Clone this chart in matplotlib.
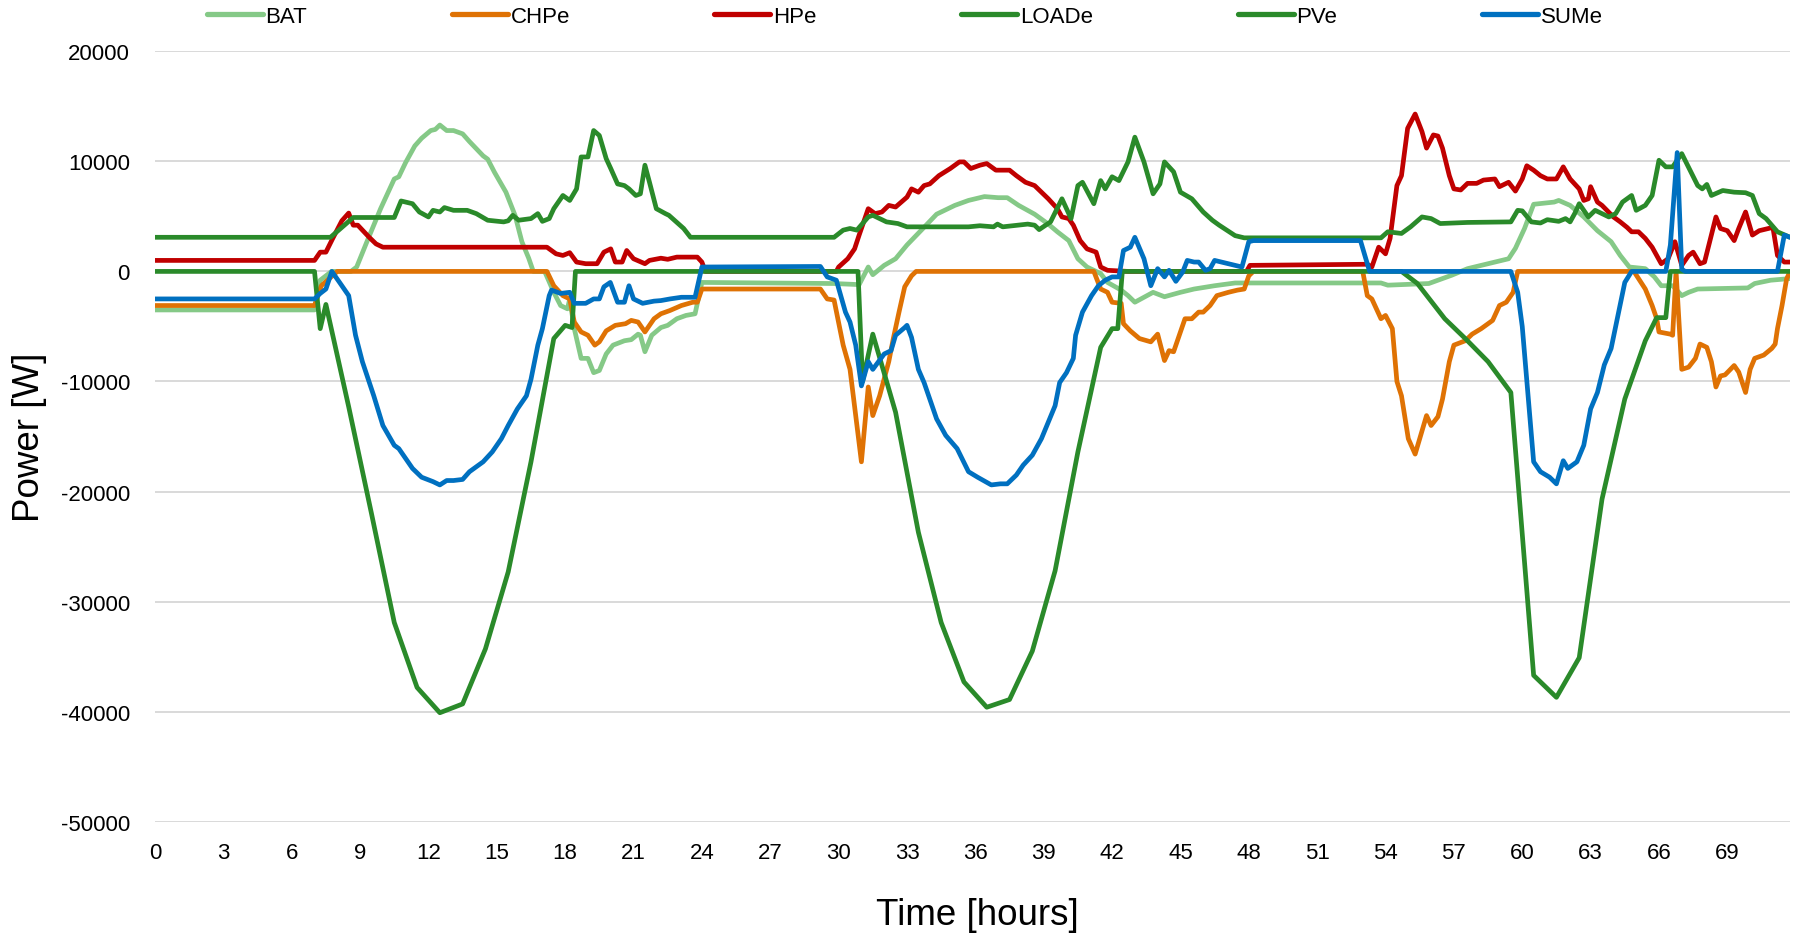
import matplotlib
matplotlib.use("Agg")
import matplotlib.pyplot as plt

plt.rcParams['font.family'] = ['Liberation Sans', 'DejaVu Sans']
plt.rcParams['axes.unicode_minus'] = False

# ---- time series (hours, watts) ----
bat_t = [0, 7.0, 7.25, 7.75, 8.6, 8.85, 9.3, 9.9, 10.5, 10.7, 11.0, 11.4, 11.7, 12.1, 12.3, 12.5,
         12.8, 13.1, 13.5, 13.8, 14.4, 14.6, 14.9, 15.4, 15.8, 16.1, 16.4, 16.6, 17.1, 17.5, 17.8,
         18.1, 18.2, 18.4, 18.7, 19.0, 19.25, 19.5, 19.8, 20.1, 20.6, 20.9, 21.2, 21.3, 21.5, 21.8,
         22.2, 22.5, 22.9, 23.3, 23.7, 24.0, 29.8, 30.9, 31.3, 31.5, 32.0, 32.5, 33.0, 33.7, 34.3,
         35.1, 35.7, 36.4, 37.0, 37.4, 37.9, 38.6, 39.2, 39.6, 40.1, 40.5, 40.9, 41.5, 41.8, 42.4,
         42.7, 43.0, 43.8, 44.3, 45.0, 45.6, 46.5, 47.4, 53.8, 54.1, 55.9, 56.9, 57.6, 58.5, 59.4,
         59.7, 60.1, 60.5, 61.4, 61.6, 62.1, 62.7, 63.3, 63.9, 64.3, 64.7, 65.4, 65.8, 66.1, 66.6,
         67.0, 67.3, 67.7, 69.9, 70.2, 70.9, 71.75]
bat_v = [-3500, -3500, -800, 0, 0, 400, 2700, 5700, 8400, 8600, 9900, 11400, 12100, 12800, 12900, 13300,
         12800, 12800, 12500, 11800, 10500, 10200, 9000, 7200, 5100, 2700, 1200, 0, 0, -1900, -3100,
         -3400, -2500, -5200, -7900, -7900, -9200, -9000, -7500, -6700, -6300, -6200, -5700, -5800, -7300, -5800,
         -5100, -4900, -4300, -4000, -3850, -1000, -1100, -1200, 400, -300, 550, 1150, 2400, 3900, 5200,
         6000, 6450, 6800, 6700, 6700, 6000, 5200, 4300, 3600, 2800, 1150, 400, -200, -1000, -1700,
         -2200, -2800, -1900, -2300, -1900, -1600, -1300, -1050, -1050, -1250, -1100, -350, 250, 700, 1150,
         2100, 3900, 6100, 6300, 6450, 6000, 4950, 3700, 2700, 1450, 400, 250, -500, -1300, -1300,
         -2200, -1900, -1600, -1500, -1100, -800, -650]

chp_t = [0, 7.0, 7.3, 8.0, 17.2, 17.5, 17.9, 18.2, 18.4, 18.7, 19.0, 19.3, 19.5, 19.8, 20.2, 20.65,
         20.9, 21.2, 21.5, 21.9, 22.2, 22.6, 23.1, 23.6, 23.8, 24.0, 29.2, 29.5, 29.8, 30.2, 30.5,
         31.0, 31.3, 31.5, 31.8, 32.2, 32.4, 32.65, 32.9, 33.2, 33.4, 41.2, 41.5, 41.8, 42.0, 42.4,
         42.5, 42.8, 43.2, 43.7, 44.0, 44.3, 44.5, 44.7, 45.2, 45.5, 45.8, 46.0, 46.3, 46.6, 47.1,
         47.5, 47.8, 48.0, 48.2, 53.0, 53.2, 53.4, 53.8, 54.0, 54.3, 54.5, 54.7, 55.0, 55.3, 55.5,
         55.8, 56.0, 56.3, 56.5, 56.8, 57.0, 57.5, 57.8, 58.2, 58.7, 59.0, 59.3, 59.6, 59.8, 64.9,
         65.4, 65.7, 65.9, 66.0, 66.5, 66.6, 66.75, 67.0, 67.3, 67.6, 67.8, 68.1, 68.3, 68.5, 68.7,
         68.9, 69.3, 69.5, 69.8, 70.0, 70.2, 70.6, 70.95, 71.1, 71.2, 71.4, 71.6, 71.75]
chp_v = [-3100, -3100, -1300, 0, 0, -1300, -2200, -2500, -4600, -5500, -5800, -6700, -6400, -5400, -4900, -4750,
         -4450, -4600, -5500, -4300, -3850, -3550, -3100, -2800, -2800, -1600, -1600, -2500, -2600, -6700, -8900,
         -17300, -10500, -13100, -11300, -8200, -6100, -3700, -1400, -400, 0, 0, -1600, -1900, -2800, -2900,
         -4750, -5400, -6100, -6400, -5700, -8100, -7200, -7300, -4300, -4300, -3700, -3700, -3100, -2200, -1900,
         -1700, -1600, -400, 0, 0, -2200, -2500, -4300, -4000, -5200, -10000, -11300, -15200, -16600, -15200,
         -13100, -14000, -13200, -11600, -8200, -6700, -6300, -5700, -5200, -4450, -3100, -2800, -1900, 0, 0,
         -1600, -3100, -4300, -5500, -5700, -5800, 0, -8900, -8700, -7900, -6600, -6900, -8200, -10500, -9500,
         -9400, -8550, -9150, -11000, -8900, -7900, -7600, -7000, -6600, -5200, -3100, -700, 0]

hp_t = [0, 7.0, 7.25, 7.5, 7.8, 8.2, 8.5, 8.7, 8.9, 9.4, 9.7, 10.0, 17.2, 17.6, 17.9, 18.2, 18.5,
        18.9, 19.4, 19.7, 20.0, 20.2, 20.5, 20.7, 21.0, 21.5, 21.7, 22.2, 22.5, 22.9, 23.8, 24.0,
        24.15, 29.9, 30.0, 30.4, 30.7, 30.9, 31.3, 31.6, 31.9, 32.2, 32.5, 33.0, 33.2, 33.5, 33.75,
        34.0, 34.4, 34.9, 35.3, 35.5, 35.8, 36.2, 36.5, 36.9, 37.5, 37.8, 38.2, 38.6, 38.9, 39.2,
        39.6, 39.8, 40.1, 40.3, 40.6, 40.9, 41.3, 41.5, 41.8, 42.7, 47.9, 48.05, 53.2, 53.4, 53.7,
        54.0, 54.2, 54.5, 54.7, 54.97, 55.3, 55.6, 55.8, 56.1, 56.3, 56.5, 56.8, 57.0, 57.3, 57.6,
        58.0, 58.3, 58.8, 59.0, 59.4, 59.7, 60.0, 60.2, 60.5, 60.8, 61.1, 61.5, 61.8, 62.1, 62.5,
        62.7, 62.9, 63.0, 63.3, 63.5, 64.0, 64.3, 64.6, 64.8, 65.1, 65.4, 65.7, 65.9, 66.1, 66.4,
        66.7, 67.0, 67.3, 67.5, 67.8, 68.0, 68.5, 68.7, 69.0, 69.3, 69.5, 69.8, 70.1, 70.4, 70.8,
        71.0, 71.2, 71.5, 71.75]
hp_v = [1000, 1000, 1750, 1750, 3000, 4600, 5300, 4200, 4200, 3100, 2500, 2200, 2200, 1600, 1450, 1700, 850,
        700, 700, 1750, 2050, 850, 850, 1900, 1150, 700, 1000, 1200, 1100, 1300, 1300, 850,
        0, 0, 400, 1150, 2050, 3300, 5700, 5250, 5400, 6000, 5850, 6750, 7500, 7200, 7800,
        7950, 8700, 9350, 9950, 9950, 9350, 9650, 9800, 9200, 9200, 8700, 8100, 7800, 7200, 6600,
        5700, 4950, 4800, 4200, 2800, 2050, 1750, 400, 100, 0, 0, 550, 650, 400, 2200,
        1600, 3000, 7800, 8700, 13000, 14300, 12700, 11200, 12400, 12300, 11200, 8700, 7500, 7400, 8000,
        8000, 8300, 8400, 7700, 8100, 7300, 8400, 9600, 9200, 8700, 8400, 8400, 9500, 8400, 7500,
        6450, 6600, 7700, 6300, 6000, 4950, 4500, 4000, 3600, 3600, 3000, 2200, 1450, 700, 1150,
        2700, 550, 1450, 1750, 700, 850, 4950, 3900, 3700, 2800, 3900, 5400, 3300, 3700, 3900,
        4000, 1450, 850, 850]

load_t = [0, 7.7, 8.7, 10.5, 10.8, 11.3, 11.6, 12.0, 12.2, 12.5, 12.7, 13.1, 13.7, 14.1, 14.6, 15.3,
          15.5, 15.7, 15.96, 16.5, 16.8, 17.0, 17.3, 17.5, 17.9, 18.2, 18.5, 18.7, 19.0, 19.25, 19.5,
          19.8, 20.0, 20.3, 20.6, 20.8, 21.1, 21.3, 21.5, 21.7, 22.0, 22.4, 22.55, 23.2, 23.5, 29.8,
          30.2, 30.5, 30.8, 31.3, 31.5, 32.1, 32.6, 33.0, 35.7, 36.2, 36.8, 36.97, 37.2, 38.3, 38.6,
          38.8, 39.3, 39.8, 40.2, 40.5, 40.7, 41.2, 41.5, 41.7, 42.0, 42.3, 42.7, 43.0, 43.4, 43.8,
          44.1, 44.3, 44.7, 45.0, 45.5, 46.0, 46.4, 46.7, 47.4, 47.8, 53.8, 54.1, 54.7, 55.1, 55.6,
          56.0, 56.4, 57.6, 59.5, 59.8, 60.0, 60.4, 60.8, 61.1, 61.6, 61.9, 62.1, 62.3, 62.5, 62.9,
          63.2, 63.8, 64.1, 64.4, 64.8, 65.0, 65.4, 65.7, 66.0, 66.3, 66.6, 67.0, 67.4, 67.7, 67.9,
          68.1, 68.3, 68.8, 69.3, 69.8, 70.1, 70.4, 70.7, 71.2, 71.75]
load_v = [3100, 3100, 4900, 4900, 6400, 6150, 5400, 4950, 5550, 5400, 5800, 5550, 5550, 5250, 4650, 4500,
          4600, 5100, 4650, 4800, 5250, 4550, 4800, 5700, 6900, 6450, 7500, 10400, 10400, 12800, 12350,
          10250, 9350, 7950, 7800, 7500, 6900, 7050, 9650, 8100, 5700, 5250, 5100, 3900, 3100, 3100,
          3750, 3900, 3750, 4950, 5100, 4500, 4350, 4050, 4050, 4150, 4050, 4300, 4050, 4300, 4200,
          3800, 4500, 6600, 4800, 7800, 8100, 6150, 8250, 7500, 8600, 8250, 9950, 12200, 9950, 7050,
          7950, 9950, 9050, 7200, 6600, 5400, 4650, 4200, 3250, 3050, 3050, 3600, 3450, 4050, 4950,
          4800, 4350, 4450, 4500, 5550, 5500, 4500, 4400, 4700, 4550, 4800, 4500, 5250, 6150, 4950,
          5550, 4950, 5250, 6300, 6900, 5550, 6000, 6900, 10100, 9500, 9500, 10700, 9050, 7800, 7500,
          7900, 6900, 7350, 7200, 7150, 6900, 5250, 4800, 3600, 3100]

pv_t = [0, 7.0, 7.25, 7.5, 8.5, 9.5, 10.5, 11.5, 12.5, 13.5, 14.5, 15.5, 16.5, 17.5, 18.0, 18.3,
        18.45, 30.85, 31.05, 31.5, 32.5, 33.5, 34.5, 35.5, 36.5, 37.5, 38.5, 39.5, 40.5, 41.5, 42.0,
        42.25, 42.45, 54.7, 55.4, 56.6, 57.5, 58.5, 59.5, 60.5, 61.5, 62.5, 63.5, 64.5, 65.4, 65.9,
        66.3, 66.5, 71.75]
pv_v = [0, 0, -5200, -3000, -12300, -22000, -31900, -37800, -40100, -39300, -34300, -27300, -17300, -6100, -4900, -5100,
        0, 0, -10000, -5700, -12800, -23700, -31900, -37300, -39600, -38900, -34500, -27200, -16400, -6900, -5200,
        -5200, 0, 0, -1100, -4300, -6100, -8200, -11000, -36700, -38700, -35100, -20700, -11600, -6300, -4200,
        -4200, 0, 0]

sum_t = [0, 7.0, 7.25, 7.5, 7.76, 8.1, 8.5, 8.8, 9.1, 9.6, 10.0, 10.5, 10.7, 11.3, 11.7, 12.2, 12.5,
         12.8, 13.1, 13.5, 13.8, 14.4, 14.8, 15.2, 15.5, 15.9, 16.3, 16.5, 16.8, 17.0, 17.3, 17.4,
         17.8, 18.2, 18.4, 18.9, 19.25, 19.5, 19.7, 19.98, 20.3, 20.6, 20.8, 21.0, 21.4, 21.9, 22.2,
         22.6, 23.1, 23.7, 24.0, 29.2, 29.5, 29.9, 30.3, 30.5, 30.75, 31.0, 31.3, 31.5, 32.0, 32.3,
         32.5, 32.9, 33.0, 33.2, 33.5, 33.75, 34.0, 34.3, 34.7, 35.2, 35.7, 36.1, 36.7, 37.1, 37.4,
         37.8, 38.1, 38.5, 38.9, 39.2, 39.5, 39.7, 40.0, 40.3, 40.4, 40.7, 41.1, 41.4, 41.7, 42.0,
         42.3, 42.5, 42.8, 43.0, 43.4, 43.7, 44.0, 44.3, 44.5, 44.8, 45.1, 45.3, 45.6, 45.8, 46.1,
         46.3, 46.5, 46.8, 47.4, 47.7, 48.0, 48.2, 52.9, 53.3, 59.5, 59.8, 60.0, 60.5, 60.8, 61.2,
         61.5, 61.8, 62.0, 62.4, 62.7, 63.0, 63.3, 63.6, 63.9, 64.2, 64.5, 64.8, 66.3, 66.5, 66.8,
         67.0, 67.15, 71.2, 71.5, 71.75]
sum_v = [-2500, -2500, -2000, -1600, 0, -1000, -2200, -5800, -8200, -11300, -14000, -15800, -16100, -17900, -18700, -19100, -19400,
         -19000, -19000, -18900, -18200, -17300, -16400, -15200, -14000, -12500, -11300, -9800, -6700, -5200, -2200, -1700,
         -2000, -1900, -2900, -2900, -2500, -2500, -1400, -1000, -2800, -2800, -1300, -2500, -2900, -2700, -2650,
         -2500, -2350, -2350, 400, 450, -500, -800, -3700, -4600, -6700, -10400, -8200, -8900, -7500, -7200,
         -5800, -5100, -4900, -6000, -8900, -10100, -11600, -13400, -14900, -16100, -18200, -18700, -19400, -19300, -19300,
         -18500, -17600, -16700, -15200, -13700, -12200, -10100, -9200, -7900, -5800, -3700, -2200, -1300, -800, -500,
         -500, 1900, 2200, 3100, 1150, -1300, 250, -500, 100, -900, -50, 1000, 850, 850, 100,
         250, 1000, 850, 550, 400, 2700, 2800, 2800, 0, 0, -1900, -5000, -17300, -18200, -18700,
         -19300, -17200, -17900, -17300, -15800, -12500, -11000, -8500, -7000, -4000, -1000, 0, 0, 2400, 10800,
         200, 0, 0, 3300, 3100]

series = [
    ("BAT", bat_t, bat_v, "#85C987"),
    ("CHPe", chp_t, chp_v, "#DF7204"),
    ("HPe", hp_t, hp_v, "#C00000"),
    ("LOADe", load_t, load_v, "#2A8A2A"),
    ("PVe", pv_t, pv_v, "#2A8A2A"),
    ("SUMe", sum_t, sum_v, "#0070C0"),
]

y_ticks = list(range(-50000, 20001, 10000))
x_ticks = list(range(0, 70, 3))

fig = plt.figure(figsize=(18, 9.37), dpi=100)
ax = fig.add_axes([155 / 1800, 1 - 822.7 / 937, 1635 / 1800, 770.4 / 937])

for name, t, v, c in series:
    ax.plot(t, v, color=c, lw=3.4, label=name,
            solid_joinstyle="round", solid_capstyle="round")

ax.set_xlim(0, 71.75)
ax.set_ylim(-50000, 20000)
ax.set_yticks(y_ticks)
ax.set_xticks(x_ticks)
ax.yaxis.grid(True, color="#D9D9D9", lw=1.4)
ax.set_axisbelow(True)
for s in ax.spines.values():
    s.set_visible(False)
ax.tick_params(axis="both", length=0, labelsize=16, colors="black")
ax.tick_params(axis="y", pad=18)
ax.tick_params(axis="x", pad=14.5)

ax.set_xlabel("Time [hours]", fontsize=26.5)
ax.set_ylabel("Power [W]", fontsize=26.5)
ax.xaxis.set_label_coords(0.503, -0.121)
ax.xaxis.label.set_verticalalignment("center")
ax.yaxis.set_label_coords(-0.077, 0.5)
ax.yaxis.label.set_verticalalignment("center")

leg = ax.legend(loc="center left", bbox_to_anchor=(206.7 / 1800, 1 - 17.7 / 937),
                bbox_transform=fig.transFigure, ncol=6, frameon=False, fontsize=16,
                handlelength=2.52, handletextpad=0.13, columnspacing=6.5,
                borderpad=0, borderaxespad=0)
for ln in leg.get_lines():
    ln.set_linewidth(3.8)

fig.savefig("out.png", dpi=100)
